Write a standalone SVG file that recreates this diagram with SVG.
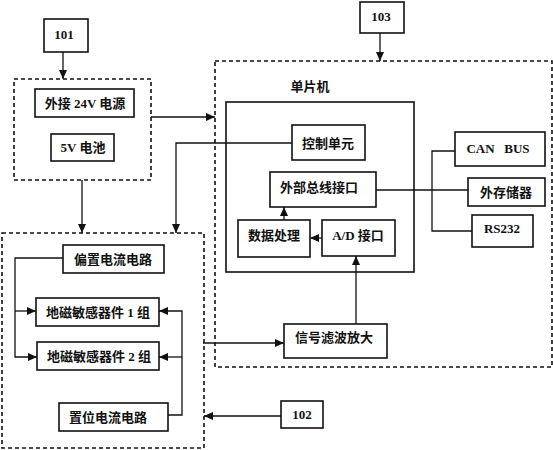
<svg xmlns="http://www.w3.org/2000/svg" width="553" height="450" viewBox="0 0 553 450">
<style>
.b{fill:#fff;stroke:#111;stroke-width:1.6}
.d{fill:none;stroke:#111;stroke-width:1.6;stroke-dasharray:4,3}
.c{fill:none;stroke:#111;stroke-width:1.3}
text{font-family:"Liberation Serif","Noto Sans CJK SC",serif;font-weight:bold;font-size:13px;fill:#111;text-anchor:middle}
</style>
<defs>
<marker id="a" markerUnits="userSpaceOnUse" markerWidth="10" markerHeight="8" refX="9" refY="4" orient="auto">
<path d="M0,0 L9,4 L0,8 Z" fill="#111"/>
</marker>
</defs>
<rect width="553" height="450" fill="#fff"/>
<g id="g101"><rect class="b" x="44" y="19" width="44" height="33"/><text x="64" y="39">101</text></g>
<g id="g103"><rect class="b" x="360" y="2" width="44" height="31"/><text x="381" y="21">103</text></g>
<g id="g102"><rect class="b" x="281" y="401" width="42" height="27"/><text x="302" y="419">102</text></g>
<g id="power"><rect class="d" x="14" y="79" width="137" height="101"/>
<g id="ext24"><rect class="b" x="35" y="89" width="99" height="28"/><text x="85" y="108">外接 24V 电源</text></g>
<g id="bat"><rect class="b" x="51" y="134" width="63" height="27"/><text x="83" y="152">5V 电池</text></g>
</g>
<g id="mcuArea"><rect class="d" x="215" y="61" width="337" height="306"/>
<text x="310" y="91">单片机</text>
<g id="mcu"><rect class="b" x="226" y="102" width="188" height="170"/></g>
<g id="ctrl"><rect class="b" x="292" y="125" width="73" height="35"/><text x="328" y="148">控制单元</text></g>
<g id="bus"><rect class="b" x="270" y="172" width="106" height="35"/><text x="319" y="192">外部总线接口</text></g>
<g id="dp"><rect class="b" x="238" y="220" width="72" height="37"/><text x="274" y="240">数据处理</text></g>
<g id="ad"><rect class="b" x="322" y="220" width="73" height="36"/><text x="358" y="240">A/D 接口</text></g>
<g id="filt"><rect class="b" x="284" y="324" width="103" height="34"/><text x="334" y="342">信号滤波放大</text></g>
<g id="can"><rect class="b" x="455" y="132" width="90" height="34"/><text x="498" y="153" xml:space="preserve">CAN   BUS</text></g>
<g id="mem"><rect class="b" x="468" y="178" width="77" height="28"/><text x="506" y="197">外存储器</text></g>
<g id="rs"><rect class="b" x="472" y="215" width="61" height="32"/><text x="502" y="233">RS232</text></g>
</g>
<g id="sensor"><rect class="d" x="2" y="233" width="202" height="215"/>
<g id="bias"><rect class="b" x="63" y="245" width="101" height="28"/><text x="113" y="264">偏置电流电路</text></g>
<g id="s1"><rect class="b" x="36" y="298" width="123" height="28"/><text x="98" y="317">地磁敏感器件 1 组</text></g>
<g id="s2"><rect class="b" x="37" y="342" width="122" height="28"/><text x="99" y="361">地磁敏感器件 2 组</text></g>
<g id="set"><rect class="b" x="59" y="403" width="109" height="28"/><text x="108" y="422">置位电流电路</text></g>
</g>
<g id="connectors">
<path class="c" d="M63,52 V79" marker-end="url(#a)"/>
<path class="c" d="M380,33 V61" marker-end="url(#a)"/>
<path class="c" d="M151,117 H215" marker-end="url(#a)"/>
<path class="c" d="M292,143 H176 V233" marker-end="url(#a)"/>
<path class="c" d="M82,180 V233" marker-end="url(#a)"/>
<path class="c" d="M376,190 H468"/>
<path class="c" d="M455,151 H432 V231 H472"/>
<path class="c" d="M284,220 V207" marker-end="url(#a)"/>
<path class="c" d="M322,238 H310" marker-end="url(#a)"/>
<path class="c" d="M356,324 V256" marker-end="url(#a)"/>
<path class="c" d="M203,343 H284" marker-end="url(#a)"/>
<path class="c" d="M281,416 H204" marker-end="url(#a)"/>
<path class="c" d="M63,258 H15 V357 H37" marker-end="url(#a)"/>
<path class="c" d="M15,311 H36" marker-end="url(#a)"/>
<path class="c" d="M168,415 H182 V311 H159" marker-end="url(#a)"/>
<path class="c" d="M182,357 H159" marker-end="url(#a)"/>
</g>
</svg>
